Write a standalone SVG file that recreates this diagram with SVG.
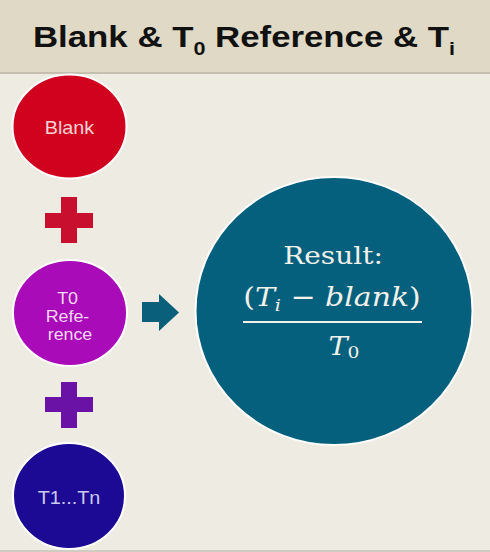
<svg xmlns="http://www.w3.org/2000/svg" width="490" height="552" viewBox="0 0 490 552">
  <defs>
    <style>
      .sans { font-family: "Liberation Sans", Arial, sans-serif; }
      .serif { font-family: "DejaVu Serif", "Liberation Serif", serif; fill: #f2f1ea; }
      .node { stroke: #ffffff; stroke-width: 2; }
      .lbl { font-size: 18px; text-anchor: middle; }
    </style>
  </defs>
  <rect x="0" y="0" width="490" height="552" fill="#edebe2"/>
  <rect x="0" y="0" width="490" height="73" fill="#dfd9c5"/>
  <rect x="0" y="72" width="490" height="2" fill="#c4bfae"/>
  <rect x="0" y="550" width="490" height="2" fill="#cfccc2"/>

  <text class="sans" transform="translate(244 47) scale(1.2 1)" font-size="29" font-weight="bold" text-anchor="middle" fill="#111111">Blank &amp; T<tspan font-size="18" dy="8">0</tspan><tspan dy="-8"> Reference &amp; T</tspan><tspan font-size="18" dy="8">i</tspan></text>

  <g id="blank">
    <ellipse class="node" cx="69.5" cy="126.5" rx="57" ry="52" fill="#d0021e"/>
    <text class="sans lbl" transform="translate(69.5 134) scale(1.1 1)" fill="#f6d3d8">Blank</text>
  </g>

  <g id="t0-reference">
    <ellipse class="node" cx="70" cy="313" rx="57" ry="53" fill="#a80bb7"/>
    <text class="sans" transform="translate(70 0) scale(1.08 1)" font-size="16.5" text-anchor="middle" fill="#f4d8f4">
      <tspan x="0" y="304">T0</tspan>
      <tspan x="0" y="322">Refe-</tspan>
      <tspan x="0" y="340">rence</tspan>
    </text>
  </g>

  <g id="t1-tn">
    <ellipse class="node" cx="69" cy="496" rx="56" ry="53" fill="#1c0a94"/>
    <text class="sans lbl" transform="translate(69 504) scale(1.1 1)" fill="#cdc9f0">T1...Tn</text>
  </g>

  <g id="result">
    <ellipse class="node" cx="334" cy="311" rx="138.5" ry="134" fill="#05607d"/>
    <text class="serif" transform="translate(333 264) scale(1.12 1)" font-size="25" text-anchor="middle">Result:</text>
    <text class="serif" transform="translate(332 306) scale(1.13 1)" font-size="26.5" text-anchor="middle">(<tspan font-style="italic">T</tspan><tspan font-style="italic" font-size="17" dy="5">i</tspan><tspan dy="-5"> − </tspan><tspan font-style="italic">blank</tspan>)</text>
    <rect x="243" y="321" width="179" height="2" fill="#f2f1ea"/>
    <text class="serif" transform="translate(344 355) scale(1.1 1)" font-size="26" text-anchor="middle"><tspan font-style="italic">T</tspan><tspan font-size="17" dy="3">0</tspan></text>
  </g>

  <g id="connectors">
    <path d="M61 197 H77 V213 H93 V228 H77 V243 H61 V228 H45 V213 H61 Z" fill="#c8102e"/>
    <path d="M61 382 H77 V397 H93 V412 H77 V428 H61 V412 H45 V397 H61 Z" fill="#6a12a6"/>
    <path d="M142 302 H159 V294 L179 312.5 L159 331 V322 H142 Z" fill="#0a5f7a"/>
  </g>
</svg>
